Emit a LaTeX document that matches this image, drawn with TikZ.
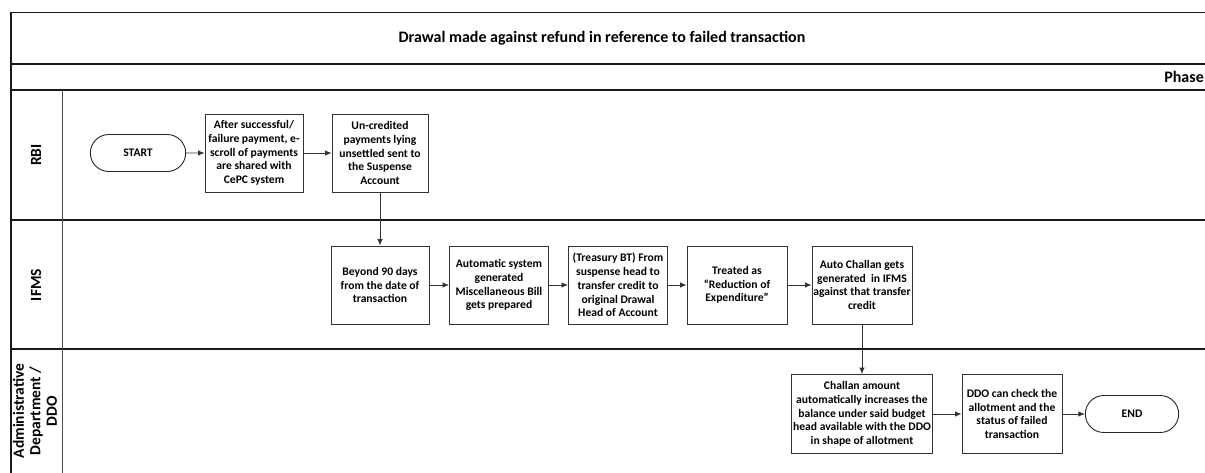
\documentclass[tikz,border=0pt]{standalone}
\usepackage{fontspec}
\setmainfont{Carlito}
\usetikzlibrary{arrows.meta,shapes.misc}

\begin{document}
\begin{tikzpicture}[x=1pt,y=-1pt,
  frameline/.style={line width=1.5pt,black!90},
  headline/.style={line width=0.9pt,black!70},
  stepbox/.style={draw=black!80,line width=0.9pt,fill=white,align=center,
    font=\bfseries\fontsize{11.6}{13.8}\selectfont,inner sep=1pt,
    minimum height=78pt},
  terminal/.style={draw=black!85,line width=0.9pt,fill=white,rounded rectangle,
    font=\bfseries\fontsize{11.6}{13.8}\selectfont,minimum width=100pt,minimum height=37pt},
  lanelabel/.style={rotate=90,align=center,font=\bfseries\fontsize{15.5}{16.5}\selectfont},
  flow/.style={line width=0.9pt,black!80,-{Latex[length=6.5pt,width=5.5pt]}}
]
\useasboundingbox (0,0) rectangle (1205,472);
\clip (0,0) rectangle (1205,472);

% pool frame, header rows and lane separators
\draw[frameline] (1215,12.5) -- (11,12.5) -- (11,480);
\draw[frameline] (11,64) -- (1215,64);
\draw[frameline] (11,90) -- (1215,90);
\draw[frameline] (11,220) -- (1215,220);
\draw[frameline] (11,349) -- (1215,349);
\draw[headline] (62,90) -- (62,480);

% header texts
\node[font=\bfseries\fontsize{16}{19}\selectfont] (title) at (602,38)
  {Drawal made against refund in reference to failed transaction};
\node[font=\bfseries\fontsize{16}{19}\selectfont,anchor=east,inner sep=0pt] (phase) at (1204,77) {Phase};

% lane labels
\node[lanelabel] (lrbi) at (36,155) {RBI};
\node[lanelabel] (lifms) at (36,285) {IFMS};
\node[lanelabel] (ladm) at (35,411) {Administrative\\Department /\\DDO};

% RBI lane
\node[terminal,minimum width=102pt] (start) at (138,153) {START};
\node[stepbox,minimum width=98pt] (b1) at (254,153)
  {After successful/\\failure payment, e-\\scroll of payments\\are shared with\\CePC system};
\node[stepbox,minimum width=96pt] (b2) at (380,153)
  {Un-credited\\payments lying\\unsettled sent to\\the Suspense\\Account};

% IFMS lane
\node[stepbox,minimum width=98pt] (b3) at (380,285)
  {Beyond 90 days\\from the date of\\transaction};
\node[stepbox,minimum width=99pt] (b4) at (499,285)
  {Automatic system\\generated\\Miscellaneous Bill\\gets prepared};
\node[stepbox,minimum width=99pt] (b5) at (618,285)
  {(Treasury BT) From\\suspense head to\\transfer credit to\\original Drawal\\Head of Account};
\node[stepbox,minimum width=100pt] (b6) at (737,285)
  {Treated as\\“Reduction of\\Expenditure”};
\node[stepbox,minimum width=100pt] (b7) at (862,285)
  {Auto Challan gets\\generated~ in IFMS\\against that transfer\\credit};

% Administrative Department / DDO lane
\node[stepbox,minimum width=141pt,minimum height=79pt] (b8) at (862,414)
  {Challan amount\\automatically increases the\\balance under said budget\\head available with the DDO\\in shape of allotment};
\node[stepbox,minimum width=100pt,minimum height=79pt] (b9) at (1012,414)
  {DDO can check the\\allotment and the\\status of failed\\transaction};
\node[terminal] (end) at (1132,414) {END};

% connectors
\draw[flow] (start) -- (b1);
\draw[flow] (b1) -- (b2);
\draw[flow] (b2) -- (b3);
\draw[flow] (b3) -- (b4);
\draw[flow] (b4) -- (b5);
\draw[flow] (b5) -- (b6);
\draw[flow] (b6) -- (b7);
\draw[flow] (b7) -- (b8);
\draw[flow] (b8) -- (b9);
\draw[flow] (b9) -- (end);
\end{tikzpicture}
\end{document}
